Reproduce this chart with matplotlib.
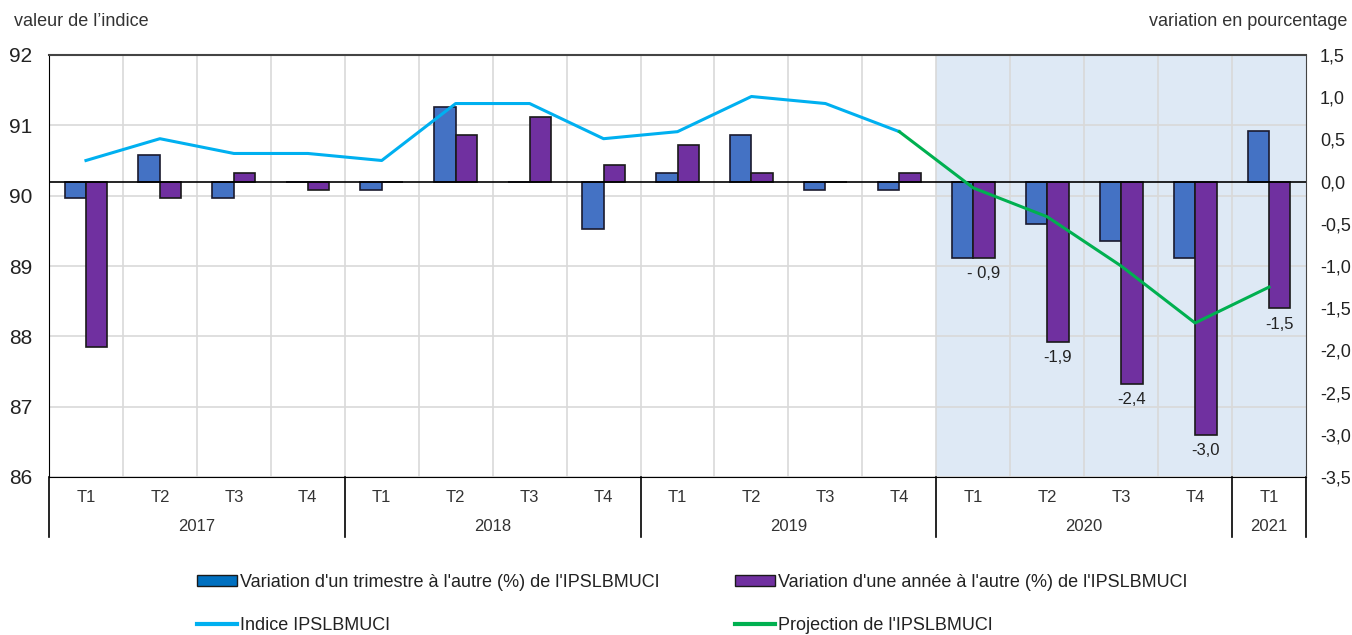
"""IPSLBMUCI index and quarterly / yearly changes, 2017T1-2021T1."""

import matplotlib

matplotlib.use("Agg")
import matplotlib.pyplot as plt
from matplotlib.lines import Line2D
from matplotlib.patches import Patch
from matplotlib.ticker import FuncFormatter, MultipleLocator
from matplotlib.transforms import blended_transform_factory

plt.rcParams["font.family"] = ["Liberation Sans Narrow", "Liberation Sans", "DejaVu Sans"]

quarters = ["T1", "T2", "T3", "T4"] * 4 + ["T1"]
years = ["2017", "2018", "2019", "2020", "2021"]
year_sizes = [4, 4, 4, 4, 1]

# right axis, percent
quarterly = [-0.2, 0.32, -0.2, 0.0, -0.1, 0.88, 0.0, -0.56, 0.1, 0.55, -0.1, -0.1,
             -0.9, -0.5, -0.7, -0.9, 0.6]
yearly = [-1.96, -0.2, 0.1, -0.1, 0.0, 0.55, 0.77, 0.2, 0.43, 0.1, 0.0, 0.1,
          -0.9, -1.9, -2.4, -3.0, -1.5]
yearly_labels = {12: "- 0,9", 13: "-1,9", 14: "-2,4", 15: "-3,0", 16: "-1,5"}

# left axis, index value
index_obs = [90.50, 90.81, 90.60, 90.60, 90.50, 91.31, 91.31, 90.81, 90.91, 91.41,
             91.31, 90.91]
index_proj = [90.91, 90.11, 89.70, 89.00, 88.19, 88.70]  # from 2019T4 onward

BLUE = "#4472C4"
PURPLE = "#7030A0"
CYAN = "#00B0F0"
GREEN = "#00B050"
SHADE = "#DEE9F5"
GRID = "#D9D9D9"


def comma(v, _pos=None):
    return f"{v:.1f}".replace(".", ",")


fig = plt.figure(figsize=(13.52, 6.35), dpi=100)
ax = fig.add_axes([49 / 1352, 1 - 477 / 635, (1306 - 49) / 1352, (477 - 55) / 635])
n = len(quarters)
x = list(range(n))

# background layer: index scale, grid, shading
ax.set_xlim(-0.5, n - 0.5)
ax.set_ylim(86, 92)
ax.axvspan(11.5, n - 0.5, color=SHADE, zorder=0, lw=0)
ax.set_yticks(range(86, 93))
ax.set_xticks([i + 0.5 for i in range(n - 1)], minor=True)
ax.grid(axis="y", color=GRID, lw=1.2)
ax.grid(axis="x", which="minor", color=GRID, lw=1.2)
ax.set_axisbelow(True)
ax.tick_params(axis="y", length=0, labelsize=15, pad=12, colors="#222222")
ax.tick_params(axis="x", which="both", length=0)
ax.set_xticks(x)
ax.set_xticklabels(quarters, fontsize=12, color="#333333")
ax.tick_params(axis="x", pad=9)
for side in ("left", "bottom"):
    ax.spines[side].set_color("black")
ax.spines["top"].set_color("#444444")
ax.spines["top"].set_linewidth(1.5)
ax.spines["right"].set_color("#444444")

# bars on percent scale
axb = ax.twinx()
axb.set_ylim(-3.5, 1.5)
axb.yaxis.set_major_locator(MultipleLocator(0.5))
axb.yaxis.set_major_formatter(FuncFormatter(comma))
axb.tick_params(axis="y", length=0, labelsize=13, pad=10, colors="#222222")
for s in axb.spines.values():
    s.set_visible(False)
w = 0.29
axb.bar([i - w / 2 for i in x], quarterly, width=w, color=BLUE, edgecolor="#1a1a2e",
        lw=1.2, zorder=2)
axb.bar([i + w / 2 for i in x], yearly, width=w, color=PURPLE, edgecolor="#1a1a1a",
        lw=1.2, zorder=2)
axb.axhline(0, color="black", lw=1.2, zorder=3)
for i, txt in yearly_labels.items():
    axb.annotate(txt, (i + w / 2, yearly[i]), xytext=(0, -6), textcoords="offset points",
                 ha="center", va="top", fontsize=12, color="#222222")

# lines on index scale, above bars
axl = ax.twinx()
axl.set_ylim(86, 92)
axl.set_yticks([])
for s in axl.spines.values():
    s.set_visible(False)
axl.plot(x[: len(index_obs)], index_obs, color=CYAN, lw=2.2, zorder=4)
axl.plot(x[len(index_obs) - 1:], index_proj, color=GREEN, lw=2.2, zorder=4)

# year rows and separators under the axis
trans = blended_transform_factory(ax.transData, ax.transAxes)
start = 0
bounds = [-0.5]
for year, size in zip(years, year_sizes):
    ax.text(start + (size - 1) / 2, -0.118, year, transform=trans, ha="center",
            va="center", fontsize=12, color="#333333")
    start += size
    bounds.append(start - 0.5)
for b in bounds:
    ax.plot([b, b], [0, -0.142], transform=trans, color="black", lw=1.2,
            clip_on=False)

fig.text(14 / 1352, 1 - 22 / 635, "valeur de l\u2019indice", fontsize=13, va="center",
         color="#333333")
fig.text(1347 / 1352, 1 - 22 / 635, "variation en pourcentage", fontsize=13,
         va="center", ha="right", color="#333333")

left_handles = [
    Patch(facecolor="#0070C0", edgecolor="#1a1a1a", label="Variation d'un trimestre à l'autre (%) de l'IPSLBMUCI"),
    Line2D([], [], color=CYAN, lw=3, label="Indice IPSLBMUCI"),
]
right_handles = [
    Patch(facecolor=PURPLE, edgecolor="#1a1a1a", label="Variation d'une année à l'autre (%) de l'IPSLBMUCI"),
    Line2D([], [], color=GREEN, lw=3, label="Projection de l'IPSLBMUCI"),
]
for handles, x0 in ((left_handles, 197), (right_handles, 735)):
    fig.legend(handles=handles, loc="upper left", bbox_to_anchor=(x0 / 1352, 1 - 574 / 635),
               frameon=False, fontsize=13, handlelength=2.2, handleheight=0.55,
               handletextpad=0.2, labelspacing=1.45, borderaxespad=0, borderpad=0,
               labelcolor="#222222")

fig.savefig("out.png", dpi=100)
